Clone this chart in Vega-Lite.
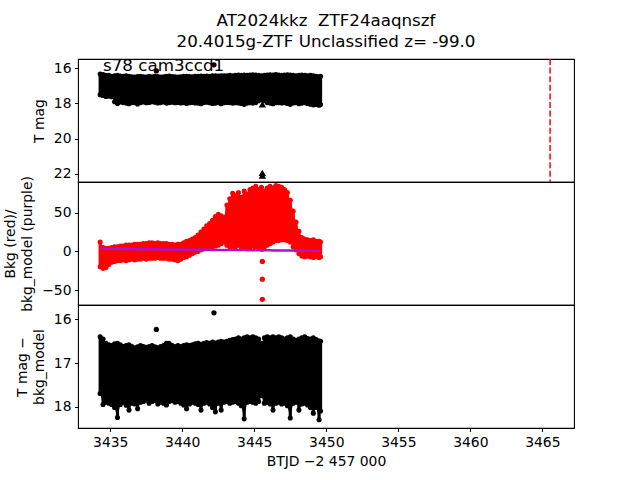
{
  "$schema": "https://vega.github.io/schema/vega-lite/v6.json",
  "padding": {"left": 3, "top": 12, "right": 5, "bottom": 5},
  "background": "white",
  "spacing": 0,
  "bounds": "flush",
  "resolve": {"scale": {"x": "independent", "y": "independent"}},
  "config": {
    "font": "DejaVu Sans",
    "view": {"stroke": "black", "strokeWidth": 1.1},
    "axis": {"domain": false, "grid": false, "ticks": true, "tickColor": "black", "tickSize": 3.5, "tickWidth": 1, "labelFont": "DejaVu Sans", "labelFontSize": 13.9, "labelColor": "black", "labelPadding": 3.5, "labelFlush": false, "titleFont": "DejaVu Sans", "titleFontSize": 13.9, "titleFontWeight": "normal", "titleColor": "black", "titlePadding": 7, "titleLineHeight": 17}
  },
  "datasets": {
    "lc": [
      {"t": 3434.3, "m1": 16.32, "m2": 17.50, "b1": -20, "b2": 12, "bm": 3.4, "d1": 16.40, "d2": 17.70},
      {"t": 3434.5, "m1": 16.36, "m2": 17.55, "b1": -22, "b2": 5, "bm": 3.3, "d1": 16.45, "d2": 17.95},
      {"t": 3434.7, "m1": 16.40, "m2": 17.60, "b1": -21, "b2": 4, "bm": 3.3, "d1": 16.55, "d2": 17.90},
      {"t": 3434.9, "m1": 16.40, "m2": 17.58, "b1": -17, "b2": 4, "bm": 3.2, "d1": 16.58, "d2": 17.92},
      {"t": 3435.1, "m1": 16.45, "m2": 17.62, "b1": -14, "b2": 5, "bm": 3.2, "d1": 16.60, "d2": 17.95},
      {"t": 3435.3, "m1": 16.42, "m2": 17.90, "b1": -13, "b2": 6, "bm": 3.1, "d1": 16.56, "d2": 18.02},
      {"t": 3435.5, "m1": 16.40, "m2": 18.00, "b1": -12, "b2": 6, "bm": 3.1, "d1": 16.55, "d2": 18.25},
      {"t": 3435.7, "m1": 16.44, "m2": 17.92, "b1": -12, "b2": 7, "bm": 3.0, "d1": 16.58, "d2": 17.95},
      {"t": 3435.9, "m1": 16.46, "m2": 17.95, "b1": -11, "b2": 7, "bm": 3.0, "d1": 16.62, "d2": 17.90},
      {"t": 3436.1, "m1": 16.43, "m2": 17.98, "b1": -12, "b2": 8, "bm": 3.0, "d1": 16.60, "d2": 17.97},
      {"t": 3436.3, "m1": 16.45, "m2": 18.02, "b1": -11, "b2": 8, "bm": 2.9, "d1": 16.58, "d2": 18.08},
      {"t": 3436.5, "m1": 16.48, "m2": 17.95, "b1": -10, "b2": 8, "bm": 2.9, "d1": 16.62, "d2": 17.92},
      {"t": 3436.7, "m1": 16.50, "m2": 17.96, "b1": -11, "b2": 9, "bm": 2.8, "d1": 16.65, "d2": 17.94},
      {"t": 3436.9, "m1": 16.47, "m2": 18.03, "b1": -10, "b2": 9, "bm": 2.8, "d1": 16.63, "d2": 18.05},
      {"t": 3437.1, "m1": 16.45, "m2": 17.95, "b1": -10, "b2": 9, "bm": 2.8, "d1": 16.60, "d2": 17.90},
      {"t": 3437.3, "m1": 16.48, "m2": 17.92, "b1": -9, "b2": 10, "bm": 2.7, "d1": 16.62, "d2": 17.88},
      {"t": 3437.5, "m1": 16.50, "m2": 17.96, "b1": -10, "b2": 10, "bm": 2.7, "d1": 16.64, "d2": 17.85},
      {"t": 3437.7, "m1": 16.46, "m2": 17.94, "b1": -9, "b2": 11, "bm": 2.7, "d1": 16.62, "d2": 17.92},
      {"t": 3437.9, "m1": 16.48, "m2": 17.90, "b1": -9, "b2": 11, "bm": 2.6, "d1": 16.60, "d2": 17.88},
      {"t": 3438.1, "m1": 16.45, "m2": 17.93, "b1": -9, "b2": 10, "bm": 2.6, "d1": 16.63, "d2": 17.86},
      {"t": 3438.3, "m1": 16.47, "m2": 17.97, "b1": -8, "b2": 11, "bm": 2.6, "d1": 16.65, "d2": 17.94},
      {"t": 3438.5, "m1": 16.50, "m2": 17.95, "b1": -9, "b2": 10, "bm": 2.5, "d1": 16.62, "d2": 17.90},
      {"t": 3438.7, "m1": 16.48, "m2": 17.92, "b1": -9, "b2": 10, "bm": 2.5, "d1": 16.60, "d2": 17.92},
      {"t": 3438.9, "m1": 16.46, "m2": 17.98, "b1": -9, "b2": 10, "bm": 2.5, "d1": 16.55, "d2": 17.96},
      {"t": 3439.1, "m1": 16.44, "m2": 17.95, "b1": -10, "b2": 9, "bm": 2.4, "d1": 16.58, "d2": 17.88},
      {"t": 3439.3, "m1": 16.47, "m2": 17.93, "b1": -10, "b2": 9, "bm": 2.4, "d1": 16.60, "d2": 17.86},
      {"t": 3439.5, "m1": 16.49, "m2": 17.96, "b1": -11, "b2": 8, "bm": 2.4, "d1": 16.62, "d2": 17.90},
      {"t": 3439.7, "m1": 16.50, "m2": 17.94, "b1": -12, "b2": 9, "bm": 2.3, "d1": 16.60, "d2": 17.88},
      {"t": 3439.9, "m1": 16.48, "m2": 17.97, "b1": -10, "b2": 9, "bm": 2.3, "d1": 16.62, "d2": 17.92},
      {"t": 3440.1, "m1": 16.46, "m2": 17.95, "b1": -8, "b2": 11, "bm": 2.3, "d1": 16.60, "d2": 17.96},
      {"t": 3440.3, "m1": 16.45, "m2": 18.00, "b1": -7, "b2": 13, "bm": 2.2, "d1": 16.58, "d2": 18.05},
      {"t": 3440.5, "m1": 16.47, "m2": 17.96, "b1": -5, "b2": 14, "bm": 2.2, "d1": 16.60, "d2": 17.94},
      {"t": 3440.7, "m1": 16.48, "m2": 17.94, "b1": -3, "b2": 16, "bm": 2.2, "d1": 16.58, "d2": 17.90},
      {"t": 3440.9, "m1": 16.46, "m2": 17.97, "b1": -1, "b2": 18, "bm": 2.1, "d1": 16.56, "d2": 17.92},
      {"t": 3441.1, "m1": 16.45, "m2": 17.98, "b1": 0, "b2": 21, "bm": 2.1, "d1": 16.55, "d2": 17.95},
      {"t": 3441.3, "m1": 16.44, "m2": 18.02, "b1": 2, "b2": 25, "bm": 2.1, "d1": 16.57, "d2": 18.08},
      {"t": 3441.5, "m1": 16.46, "m2": 17.95, "b1": 3, "b2": 29, "bm": 2.0, "d1": 16.55, "d2": 17.92},
      {"t": 3441.7, "m1": 16.44, "m2": 17.93, "b1": 4, "b2": 33, "bm": 2.0, "d1": 16.53, "d2": 17.90},
      {"t": 3441.9, "m1": 16.45, "m2": 17.96, "b1": 5, "b2": 36, "bm": 2.0, "d1": 16.55, "d2": 17.94},
      {"t": 3442.1, "m1": 16.43, "m2": 18.00, "b1": 6, "b2": 40, "bm": 1.9, "d1": 16.52, "d2": 18.02},
      {"t": 3442.3, "m1": 16.42, "m2": 17.98, "b1": 7, "b2": 45, "bm": 1.9, "d1": 16.54, "d2": 18.12},
      {"t": 3442.5, "m1": 16.44, "m2": 17.95, "b1": 8, "b2": 48, "bm": 1.9, "d1": 16.52, "d2": 17.92},
      {"t": 3442.7, "m1": 16.42, "m2": 18.02, "b1": 10, "b2": 46, "bm": 1.8, "d1": 16.50, "d2": 18.08},
      {"t": 3442.9, "m1": 16.43, "m2": 17.96, "b1": 12, "b2": 44, "bm": 1.8, "d1": 16.52, "d2": 17.90},
      {"t": 3443.1, "m1": 16.42, "m2": 17.94, "b1": 8, "b2": 60, "bm": 1.8, "d1": 16.50, "d2": 17.88},
      {"t": 3443.3, "m1": 16.40, "m2": 17.95, "b1": 6, "b2": 68, "bm": 1.7, "d1": 16.48, "d2": 17.92},
      {"t": 3443.5, "m1": 16.42, "m2": 17.98, "b1": 5, "b2": 75, "bm": 1.7, "d1": 16.46, "d2": 17.90},
      {"t": 3443.7, "m1": 16.40, "m2": 17.96, "b1": 6, "b2": 72, "bm": 1.7, "d1": 16.45, "d2": 17.88},
      {"t": 3443.9, "m1": 16.38, "m2": 17.97, "b1": 8, "b2": 76, "bm": 1.6, "d1": 16.42, "d2": 17.92},
      {"t": 3444.1, "m1": 16.40, "m2": 18.00, "b1": 5, "b2": 70, "bm": 1.6, "d1": 16.45, "d2": 17.98},
      {"t": 3444.3, "m1": 16.38, "m2": 18.05, "b1": 4, "b2": 78, "bm": 1.6, "d1": 16.42, "d2": 18.28},
      {"t": 3444.5, "m1": 16.40, "m2": 17.98, "b1": 6, "b2": 74, "bm": 1.5, "d1": 16.40, "d2": 17.90},
      {"t": 3444.7, "m1": 16.38, "m2": 17.96, "b1": 5, "b2": 80, "bm": 1.5, "d1": 16.42, "d2": 17.88},
      {"t": 3444.9, "m1": 16.37, "m2": 17.98, "b1": 7, "b2": 82, "bm": 1.5, "d1": 16.40, "d2": 17.90},
      {"t": 3445.1, "m1": 16.38, "m2": 17.95, "b1": 4, "b2": 84, "bm": 1.4, "d1": 16.42, "d2": 17.92},
      {"t": 3445.3, "m1": 16.40, "m2": 17.85, "b1": 5, "b2": 80, "bm": 1.4, "d1": 16.45, "d2": 17.88},
      {"t": 3445.5, "m1": 16.42, "m2": 17.78, "b1": 3, "b2": 83, "bm": 1.4, "d1": 16.55, "d2": 17.75},
      {"t": 3445.7, "m1": 16.40, "m2": 17.84, "b1": 6, "b2": 78, "bm": 1.3, "d1": 16.42, "d2": 17.92},
      {"t": 3445.9, "m1": 16.38, "m2": 17.95, "b1": 8, "b2": 82, "bm": 1.3, "d1": 16.40, "d2": 17.90},
      {"t": 3446.1, "m1": 16.37, "m2": 17.98, "b1": 10, "b2": 84, "bm": 1.3, "d1": 16.42, "d2": 17.94},
      {"t": 3446.3, "m1": 16.38, "m2": 18.02, "b1": 12, "b2": 82, "bm": 1.2, "d1": 16.40, "d2": 18.08},
      {"t": 3446.5, "m1": 16.36, "m2": 17.96, "b1": 14, "b2": 85, "bm": 1.2, "d1": 16.42, "d2": 17.92},
      {"t": 3446.7, "m1": 16.38, "m2": 17.95, "b1": 14, "b2": 84, "bm": 1.2, "d1": 16.40, "d2": 17.90},
      {"t": 3446.9, "m1": 16.40, "m2": 17.97, "b1": 15, "b2": 83, "bm": 1.1, "d1": 16.42, "d2": 17.94},
      {"t": 3447.1, "m1": 16.38, "m2": 17.96, "b1": 15, "b2": 80, "bm": 1.1, "d1": 16.45, "d2": 17.92},
      {"t": 3447.3, "m1": 16.37, "m2": 18.00, "b1": 14, "b2": 76, "bm": 1.1, "d1": 16.42, "d2": 17.98},
      {"t": 3447.5, "m1": 16.38, "m2": 18.05, "b1": 12, "b2": 66, "bm": 1.0, "d1": 16.40, "d2": 18.26},
      {"t": 3447.7, "m1": 16.40, "m2": 17.97, "b1": 6, "b2": 52, "bm": 1.0, "d1": 16.45, "d2": 17.92},
      {"t": 3447.9, "m1": 16.42, "m2": 17.95, "b1": 2, "b2": 38, "bm": 1.0, "d1": 16.48, "d2": 17.90},
      {"t": 3448.1, "m1": 16.40, "m2": 18.02, "b1": -3, "b2": 26, "bm": 0.9, "d1": 16.45, "d2": 18.08},
      {"t": 3448.3, "m1": 16.38, "m2": 17.98, "b1": -6, "b2": 18, "bm": 0.9, "d1": 16.42, "d2": 17.94},
      {"t": 3448.5, "m1": 16.40, "m2": 17.96, "b1": -7, "b2": 16, "bm": 0.9, "d1": 16.40, "d2": 17.92},
      {"t": 3448.7, "m1": 16.42, "m2": 18.00, "b1": -6, "b2": 15, "bm": 0.8, "d1": 16.44, "d2": 17.96},
      {"t": 3448.9, "m1": 16.40, "m2": 18.04, "b1": -7, "b2": 14, "bm": 0.8, "d1": 16.45, "d2": 18.02},
      {"t": 3449.1, "m1": 16.42, "m2": 18.08, "b1": -8, "b2": 15, "bm": 0.7, "d1": 16.42, "d2": 18.15},
      {"t": 3449.3, "m1": 16.45, "m2": 18.05, "b1": -7, "b2": 13, "bm": 0.7, "d1": 16.46, "d2": 18.02},
      {"t": 3449.5, "m1": 16.48, "m2": 18.10, "b1": -8, "b2": 13, "bm": 0.6, "d1": 16.50, "d2": 18.30},
      {"t": 3449.6, "m1": 16.45, "m2": 18.06, "b1": -7, "b2": 12, "bm": 0.6, "d1": 16.50, "d2": 18.10}
    ],
    "m_pts": [
      {"t": 3438.2, "v": 16.15},
      {"t": 3442.2, "v": 15.8}
    ],
    "m_lim": [
      {"t": 3445.56, "v": 18.05},
      {"t": 3445.56, "v": 21.95},
      {"t": 3445.56, "v": 22.1}
    ],
    "b_pts": [
      {"t": 3445.56, "v": 3},
      {"t": 3445.56, "v": -13},
      {"t": 3445.56, "v": -36},
      {"t": 3445.56, "v": -62}
    ],
    "d_pts": [
      {"t": 3438.2, "v": 16.23},
      {"t": 3442.2, "v": 15.85},
      {"t": 3439.08, "v": 16.55},
      {"t": 3449.5, "v": 16.5}
    ]
  },
  "vconcat": [
    {
      "width": 496,
      "height": 123,
      "title": {"text": ["AT2024kkz\u00a0 ZTF24aaqnszf", "20.4015g-ZTF Unclassified z= -99.0"], "font": "DejaVu Sans", "fontSize": 16.7, "fontWeight": "normal", "color": "black", "frame": "group", "anchor": "middle", "offset": 7, "lineHeight": 21},
      "layer": [
        {"data": {"name": "lc"}, "mark": {"type": "area", "color": "black", "opacity": 1, "orient": "vertical"},
         "encoding": {
           "x": {"field": "t", "type": "quantitative", "scale": {"domain": [3432.76, 3467.2], "nice": false, "zero": false}, "axis": null},
           "y": {"field": "m1", "type": "quantitative", "scale": {"domain": [15.47, 22.47], "reverse": true, "nice": false, "zero": false}, "axis": {"values": [16, 18, 20, 22], "title": "T mag", "format": "d"}},
           "y2": {"field": "m2"}}},
        {"data": {"name": "lc"}, "mark": {"type": "rule", "color": "black", "strokeWidth": 3.2},
         "encoding": {
           "x": {"field": "t", "type": "quantitative"},
           "y": {"field": "m1", "type": "quantitative"},
           "y2": {"field": "m2"}}},
        {"data": {"name": "lc"}, "mark": {"type": "point", "shape": "circle", "filled": true, "opacity": 1, "color": "black", "size": 26},
         "encoding": {
           "x": {"field": "t", "type": "quantitative"},
           "y": {"field": "m1", "type": "quantitative"}}},
        {"data": {"name": "lc"}, "mark": {"type": "point", "shape": "circle", "filled": true, "opacity": 1, "color": "black", "size": 26},
         "encoding": {
           "x": {"field": "t", "type": "quantitative"},
           "y": {"field": "m2", "type": "quantitative"}}},
        {"data": {"name": "m_pts"}, "mark": {"type": "point", "shape": "circle", "filled": true, "opacity": 1, "color": "black", "size": 28},
         "encoding": {
           "x": {"field": "t", "type": "quantitative"},
           "y": {"field": "v", "type": "quantitative"}}},
        {"data": {"name": "m_lim"}, "mark": {"type": "point", "shape": "triangle-up", "filled": true, "opacity": 1, "color": "black", "size": 55},
         "encoding": {
           "x": {"field": "t", "type": "quantitative"},
           "y": {"field": "v", "type": "quantitative"}}},
        {"data": {"values": [{"t": 3465.54}]}, "mark": {"type": "rule", "color": "#ff0000", "strokeWidth": 1.5, "strokeDash": [6, 2.6]},
         "encoding": {"x": {"field": "t", "type": "quantitative"}}},
        {"data": {"values": [{"t": 3434.5, "v": 15.87, "label": "s78 cam3ccd1"}]}, "mark": {"type": "text", "align": "left", "baseline": "middle", "font": "DejaVu Sans", "fontSize": 16.7, "color": "black"},
         "encoding": {
           "x": {"field": "t", "type": "quantitative"},
           "y": {"field": "v", "type": "quantitative"},
           "text": {"field": "label"}}}
      ]
    },
    {
      "width": 496,
      "height": 123,
      "layer": [
        {"data": {"name": "lc"}, "mark": {"type": "area", "color": "#ff0000", "opacity": 1, "orient": "vertical"},
         "encoding": {
           "x": {"field": "t", "type": "quantitative", "scale": {"domain": [3432.76, 3467.2], "nice": false, "zero": false}, "axis": null},
           "y": {"field": "b1", "type": "quantitative", "scale": {"domain": [-69.4, 89.7], "nice": false, "zero": false}, "axis": {"values": [-50, 0, 50], "title": ["Bkg (red)/", "bkg_model (purple)"], "format": "d"}},
           "y2": {"field": "b2"}}},
        {"data": {"name": "lc"}, "mark": {"type": "rule", "color": "#ff0000", "strokeWidth": 3.2},
         "encoding": {
           "x": {"field": "t", "type": "quantitative"},
           "y": {"field": "b1", "type": "quantitative"},
           "y2": {"field": "b2"}}},
        {"data": {"name": "lc"}, "mark": {"type": "point", "shape": "circle", "filled": true, "opacity": 1, "color": "#ff0000", "size": 26},
         "encoding": {
           "x": {"field": "t", "type": "quantitative"},
           "y": {"field": "b1", "type": "quantitative"}}},
        {"data": {"name": "lc"}, "mark": {"type": "point", "shape": "circle", "filled": true, "opacity": 1, "color": "#ff0000", "size": 26},
         "encoding": {
           "x": {"field": "t", "type": "quantitative"},
           "y": {"field": "b2", "type": "quantitative"}}},
        {"data": {"name": "b_pts"}, "mark": {"type": "point", "shape": "circle", "filled": true, "opacity": 1, "color": "#ff0000", "size": 28},
         "encoding": {
           "x": {"field": "t", "type": "quantitative"},
           "y": {"field": "v", "type": "quantitative"}}},
        {"data": {"name": "lc"}, "mark": {"type": "line", "color": "#b010d0", "strokeWidth": 2.5},
         "encoding": {
           "x": {"field": "t", "type": "quantitative"},
           "y": {"field": "bm", "type": "quantitative"}}}
      ]
    },
    {
      "width": 496,
      "height": 123,
      "layer": [
        {"data": {"name": "lc"}, "mark": {"type": "area", "color": "black", "opacity": 1, "orient": "vertical"},
         "encoding": {
           "x": {"field": "t", "type": "quantitative", "scale": {"domain": [3432.76, 3467.2], "nice": false, "zero": false}, "axis": {"values": [3435, 3440, 3445, 3450, 3455, 3460, 3465], "format": "d", "title": "BTJD −2 457 000", "titlePadding": 6}},
           "y": {"field": "d1", "type": "quantitative", "scale": {"domain": [15.67, 18.49], "reverse": true, "nice": false, "zero": false}, "axis": {"values": [16, 17, 18], "title": ["T mag −", "bkg_model"], "format": "d"}},
           "y2": {"field": "d2"}}},
        {"data": {"name": "lc"}, "mark": {"type": "rule", "color": "black", "strokeWidth": 3.2},
         "encoding": {
           "x": {"field": "t", "type": "quantitative"},
           "y": {"field": "d1", "type": "quantitative"},
           "y2": {"field": "d2"}}},
        {"data": {"name": "lc"}, "mark": {"type": "point", "shape": "circle", "filled": true, "opacity": 1, "color": "black", "size": 26},
         "encoding": {
           "x": {"field": "t", "type": "quantitative"},
           "y": {"field": "d1", "type": "quantitative"}}},
        {"data": {"name": "lc"}, "mark": {"type": "point", "shape": "circle", "filled": true, "opacity": 1, "color": "black", "size": 26},
         "encoding": {
           "x": {"field": "t", "type": "quantitative"},
           "y": {"field": "d2", "type": "quantitative"}}},
        {"data": {"name": "d_pts"}, "mark": {"type": "point", "shape": "circle", "filled": true, "opacity": 1, "color": "black", "size": 28},
         "encoding": {
           "x": {"field": "t", "type": "quantitative"},
           "y": {"field": "v", "type": "quantitative"}}}
      ]
    }
  ]
}
